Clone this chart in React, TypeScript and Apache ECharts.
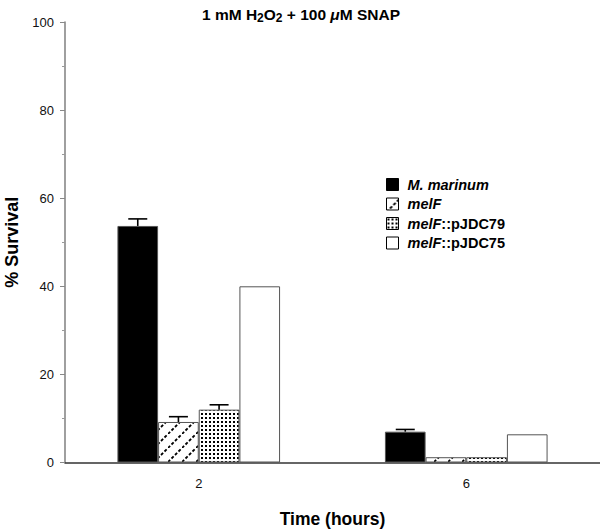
import React, { useEffect, useRef } from "react";
import * as echarts from "echarts";

const categories = ["2", "6"];
const seriesNames = ["M. marinum", "melF", "melF::pJDC79", "melF::pJDC75"];
const marinumValues = [53.7, 7.0];
const melFValues = [9.2, 1.2];
const pJDC79Values = [12.0, 1.2];
const pJDC75Values = [40.0, 6.4];
const marinumErrors = [1.6, 0.5];
const melFErrors = [1.2, 0];
const pJDC79Errors = [1.1, 0];
const pJDC75Errors = [0, 0];
const yTicks = [0, 20, 40, 60, 80, 100];

const FONT = "'Liberation Sans', Arial, Helvetica, sans-serif";

function makeHatch() {
  const s = 14;
  const c = document.createElement("canvas");
  c.width = s;
  c.height = s;
  const ctx = c.getContext("2d")!;
  ctx.fillStyle = "#fff";
  ctx.fillRect(0, 0, s, s);
  ctx.strokeStyle = "#000";
  ctx.lineWidth = 1.8;
  ctx.setLineDash([3, 1.95]);
  ctx.beginPath();
  ctx.moveTo(0, s);
  ctx.lineTo(s, 0);
  ctx.stroke();
  return { image: c, repeat: "repeat", imageWidth: s, imageHeight: s };
}

function makeDots() {
  const s = 4;
  const c = document.createElement("canvas");
  c.width = s;
  c.height = s;
  const ctx = c.getContext("2d")!;
  ctx.fillStyle = "#fff";
  ctx.fillRect(0, 0, s, s);
  ctx.fillStyle = "#000";
  ctx.fillRect(1, 1, 2, 2);
  return { image: c, repeat: "repeat", imageWidth: s, imageHeight: s };
}

export default function App() {
  const ref = useRef<HTMLDivElement>(null);
  useEffect(() => {
    if (!ref.current) return;
    const chart = echarts.init(ref.current, null, { renderer: "svg" });
    const valueSets = [marinumValues, melFValues, pJDC79Values, pJDC75Values];
    const errorSets = [marinumErrors, melFErrors, pJDC79Errors, pJDC75Errors];
    const fills: any[] = ["#000", makeHatch(), makeDots(), "#fff"];
    const BAR_FRAC = 0.152;

    const errData: number[][] = [];
    errorSets.forEach((errs, si) => {
      errs.forEach((e, ci) => {
        errData.push([ci, si, valueSets[si][ci], e]);
      });
    });

    const barSeries = seriesNames.map((name, i) => ({
      name,
      type: "bar",
      data: valueSets[i],
      barWidth: BAR_FRAC * 100 + "%",
      barGap: "0%",
      itemStyle: {
        color: fills[i],
        borderColor: "#555",
        borderWidth: 1,
      },
      z: 2,
    }));

    const legendRich = {
      i: { fontFamily: FONT, fontStyle: "italic", fontWeight: "bold", fontSize: 14.5, color: "#000" },
      n: { fontFamily: FONT, fontWeight: "bold", fontSize: 14.5, color: "#000" },
    };

    chart.setOption({
      animation: false,
      backgroundColor: "#fff",
      title: {
        text: "{a|1 mM H}{s|2}{a|O}{s|2}{a| + 100 }{m|μ}{a|M SNAP}",
        left: 197,
        top: 1,
        textStyle: {
          rich: {
            a: { fontFamily: FONT, fontWeight: "bold", fontSize: 15.5, color: "#000", lineHeight: 18, verticalAlign: "top" },
            m: { fontFamily: FONT, fontWeight: "bold", fontStyle: "italic", fontSize: 15.5, color: "#000", lineHeight: 18, verticalAlign: "top" },
            s: { fontFamily: FONT, fontWeight: "bold", fontSize: 12, color: "#000", lineHeight: 12, verticalAlign: "bottom", padding: [9, 0, 0, 0] },
          },
        },
      },
      legend: {
        orient: "vertical",
        left: 381,
        top: 172,
        itemWidth: 12,
        itemHeight: 12,
        itemGap: 4.5,
        icon: "rect",
        data: seriesNames,
        itemStyle: { borderColor: "#000", borderWidth: 1 },
        formatter: (name: string) => {
          const idx = name.indexOf("::");
          if (idx >= 0) return "{i|" + name.slice(0, idx) + "}{n|" + name.slice(idx) + "}";
          return "{i|" + name + "}";
        },
        textStyle: { fontFamily: FONT, fontSize: 14.5, lineHeight: 15, padding: [0, 0, 0, 4], rich: legendRich },
      },
      grid: { left: 65, right: 0, top: 22, bottom: 66.5, containLabel: false, outerBoundsMode: "none" },
      xAxis: {
        type: "category",
        data: categories,
        axisTick: { show: false },
        axisLine: { lineStyle: { color: "#333", width: 1.5 } },
        axisLabel: { fontFamily: FONT, fontSize: 13, color: "#111", margin: 14 },
        name: "Time (hours)",
        nameLocation: "middle",
        nameGap: 47,
        nameTextStyle: { fontFamily: FONT, fontWeight: "bold", fontSize: 17.5, color: "#000" },
      },
      yAxis: {
        type: "value",
        min: yTicks[0],
        max: yTicks[yTicks.length - 1],
        interval: yTicks[1] - yTicks[0],
        splitLine: { show: false },
        axisLine: { show: true, lineStyle: { color: "#888", width: 1.6 } },
        axisTick: { show: true, length: 5, lineStyle: { color: "#888" } },
        minorTick: { show: true, splitNumber: 2, length: 3, lineStyle: { color: "#999" } },
        axisLabel: { fontFamily: FONT, fontSize: 13, color: "#111", margin: 11 },
        name: "% Survival",
        nameLocation: "middle",
        nameGap: 44,
        nameTextStyle: { fontFamily: FONT, fontWeight: "bold", fontSize: 18, color: "#000" },
      },
      series: [
        ...barSeries,
        {
          type: "custom",
          name: "errors",
          data: errData,
          encode: { x: 0, y: 2 },
          z: 5,
          silent: true,
          renderItem: (params: any, api: any) => {
            const ci = api.value(0);
            const si = api.value(1);
            const v = api.value(2);
            const e = api.value(3);
            if (!e) return null;
            const band = api.size([1, 0])[0];
            const bw = band * BAR_FRAC;
            const base = api.coord([ci, v]);
            const top = api.coord([ci, v + e]);
            const xc = base[0] + (si - 1.5) * bw;
            const half = 9.5;
            const style = { stroke: "#000", lineWidth: 1.6 };
            return {
              type: "group",
              children: [
                { type: "line", shape: { x1: xc, y1: base[1], x2: xc, y2: top[1] }, style },
                { type: "line", shape: { x1: xc - half, y1: top[1], x2: xc + half, y2: top[1] }, style },
              ],
            };
          },
        },
      ],
    });
    return () => chart.dispose();
  }, []);
  return (
    <div
      ref={ref}
      style={{ position: "fixed", left: 0, top: 0, width: 600, height: 529, background: "#fff" }}
    />
  );
}
